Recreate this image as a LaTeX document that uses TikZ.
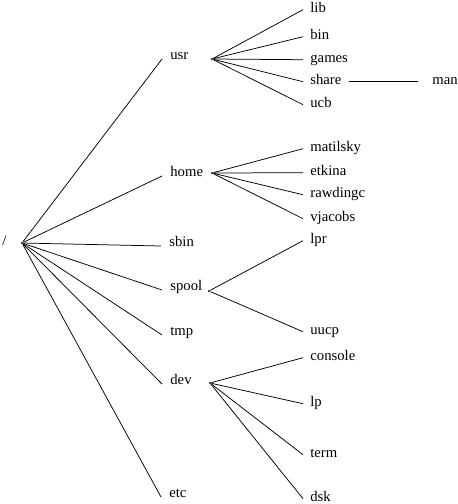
\documentclass[tikz,border=0pt]{standalone}
\usepackage{fontspec}
\setmainfont{Liberation Serif}

\tikzset{
  dir/.style={anchor=base west, inner xsep=8pt, inner ysep=0pt, font=\fontsize{14.7}{17}\selectfont},
  subdir/.style={dir, inner xsep=7pt},
  branch/.style={circle, fill, inner sep=0pt, minimum size=2.4pt}
}

\begin{document}
\begin{tikzpicture}[x=1pt, y=-1pt, line width=0.75pt]
    \useasboundingbox (0,0) rectangle (458,504);

    % ルートと分岐点
    \node[dir, inner xsep=0pt] (rootlbl) at (2,245) {/};
    \node[branch] (root) at (22,243) {};
    \node[branch] (usrP) at (212,59) {};
    \node[branch] (homeP) at (212,173) {};
    \node[branch] (spoolP) at (209,291) {};
    \node[branch] (devP) at (210,383) {};

    % 第1階層のディレクトリ
    \node[dir] (usr) at (162,59) {usr};
    \node[dir] (home) at (162,176) {home};
    \node[dir] (sbin) at (161,246) {sbin};
    \node[dir] (spool) at (162,290) {spool};
    \node[dir] (tmp) at (162,335) {tmp};
    \node[dir] (dev) at (162,384) {dev};
    \node[dir] (etc) at (161,497) {etc};

    % 第2階層のディレクトリ
    \node[subdir] (lib) at (303,12) {lib};
    \node[subdir] (bin) at (303,39) {bin};
    \node[subdir] (games) at (303,62) {games};
    \node[subdir] (share) at (303,84) {share};
    \node[subdir] (ucb) at (303,107) {ucb};
    \node[subdir] (matilsky) at (303,151) {matilsky};
    \node[subdir] (etkina) at (303,175) {etkina};
    \node[subdir] (rawdingc) at (303,197) {rawdingc};
    \node[subdir] (vjacobs) at (303,221) {vjacobs};
    \node[subdir] (lpr) at (303,243) {lpr};
    \node[subdir] (uucp) at (303,334) {uucp};
    \node[subdir] (console) at (303,360) {console};
    \node[subdir] (lp) at (303,406) {lp};
    \node[subdir] (term) at (303,457) {term};
    \node[subdir] (dsk) at (303,501) {dsk};

    % 第3階層
    \node[subdir, inner xsep=14pt] (man) at (418,84) {man};

    % ルートからの枝
    \draw (root) -- (usr.base west);
    \draw (root) -- (home.base west);
    \draw (root) -- (sbin.base west);
    \draw (root) -- (spool.base west);
    \draw (root) -- (tmp.base west);
    \draw (root) -- (dev.base west);
    \draw (root) -- (etc.base west);

    % usr の枝
    \draw (usrP) -- (lib.mid west);
    \draw (usrP) -- (bin.mid west);
    \draw (usrP) -- (games.mid west);
    \draw (usrP) -- (share.mid west);
    \draw (usrP) -- (ucb.mid west);
    \draw (share.mid east) -- (man.mid west);

    % home の枝
    \draw (homeP) -- (matilsky.mid west);
    \draw (homeP) -- (etkina.mid west);
    \draw (homeP) -- (rawdingc.mid west);
    \draw (homeP) -- (vjacobs.mid west);

    % spool の枝
    \draw (spoolP) -- (lpr.mid west);
    \draw (spoolP) -- (uucp.mid west);

    % dev の枝
    \draw (devP) -- (console.mid west);
    \draw (devP) -- (lp.mid west);
    \draw (devP) -- (term.mid west);
    \draw (devP) -- (dsk.mid west);
\end{tikzpicture}
\end{document}
